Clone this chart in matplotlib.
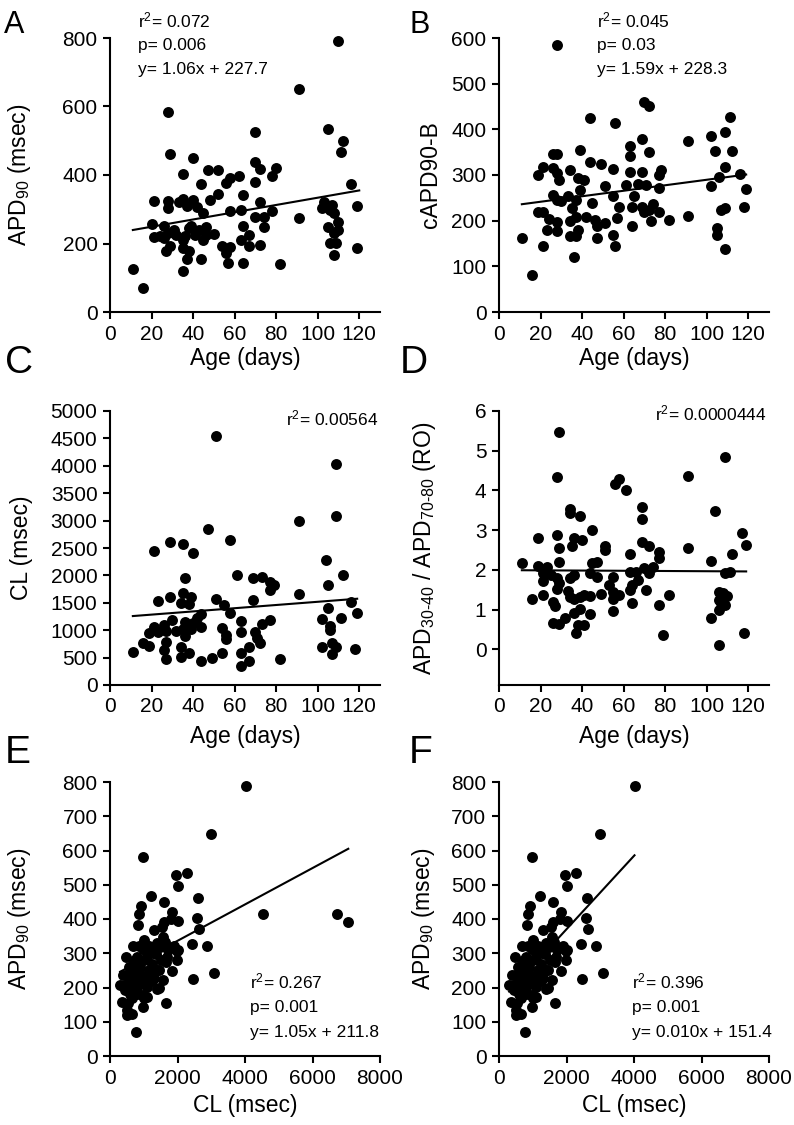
import matplotlib
matplotlib.use('Agg')
import matplotlib.pyplot as plt
import numpy as np

plt.rcParams['font.family'] = ['Liberation Sans', 'DejaVu Sans']
plt.rcParams['mathtext.fontset'] = 'custom'
plt.rcParams['mathtext.rm'] = 'Liberation Sans'

NOTE_FONT = ['Liberation Sans Narrow', 'Liberation Sans', 'DejaVu Sans']
TICK_FS = 15
LABEL_FS = 16.5

# ---- panel A: APD90 vs age ----
age_A = [110, 91, 28, 70, 105, 112, 111, 29, 40, 35, 47, 52, 70, 72, 80, 78, 70, 44, 56, 58,
         62, 52, 64, 116, 119, 21, 28, 35, 40, 48, 28, 37, 42, 45, 58, 63, 72, 78, 103, 107,
         102, 106, 91, 70, 74, 74, 64, 46, 110, 105, 110, 108, 20, 26, 21, 24, 28, 32, 38, 41,
         46, 50, 45, 35, 26, 29, 27, 35, 38, 37, 35, 44, 54, 58, 56, 57, 63, 67, 67, 72,
         64, 82, 106, 109, 108, 119, 11, 16, 31, 36, 43, 108, 39, 33]
apd_A = [790, 650, 583, 527, 533, 498, 467, 462, 451, 403, 415, 416, 437, 417, 420, 396, 381, 374, 377, 391,
         396, 345, 341, 374, 310, 323, 325, 331, 328, 327, 304, 310, 308, 289, 294, 297, 322, 296, 321, 311,
         304, 299, 273, 278, 277, 247, 252, 247, 262, 247, 238, 231, 258, 250, 218, 223, 231, 226, 245, 226,
         224, 228, 211, 211, 216, 192, 177, 187, 177, 155, 121, 156, 194, 190, 172, 143, 211, 194, 226, 197,
         143, 140, 201, 201, 167, 187, 126, 71, 240, 221, 240, 290, 252, 320]
fit_A_x = [11, 120]
fit_A_y = [239.4, 354.9]

# ---- panel B: cAPD90-B vs age ----
age_B = [28, 70, 72, 44, 56, 111, 109, 102, 91, 69, 39, 63, 63, 72, 104, 112, 28, 26, 44, 49,
         41, 55, 34, 63, 69, 109, 116, 78, 77, 19, 21, 26, 28, 29, 38, 51, 61, 67, 71, 77,
         102, 106, 119, 26, 28, 30, 33, 39, 37, 45, 35, 55, 58, 65, 64, 69, 72, 74, 77, 70,
         19, 21, 24, 28, 23, 28, 37, 34, 38, 42, 46, 51, 47, 57, 64, 73, 82, 91, 118, 109,
         107, 105, 105, 109, 34, 37, 47, 55, 56, 21, 11, 36, 16]
capd_B = [585, 459, 450, 425, 414, 426, 394, 386, 375, 379, 355, 363, 341, 350, 353, 352, 346, 345, 328, 325,
          290, 313, 310, 307, 307, 317, 303, 310, 299, 299, 317, 316, 304, 288, 293, 277, 279, 280, 279, 272,
          275, 296, 270, 257, 246, 242, 253, 268, 246, 239, 228, 253, 231, 253, 231, 231, 224, 237, 218, 220,
          220, 220, 204, 196, 180, 177, 209, 199, 180, 209, 202, 195, 189, 206, 189, 199, 202, 211, 231, 228,
          224, 184, 169, 138, 167, 167, 161, 169, 144, 144, 161, 120, 80]
fit_B_x = [11, 119]
fit_B_y = [236, 301]

# ---- panel C: CL vs age ----
age_C = [51, 109, 91, 109, 47, 29, 35, 40, 21, 58, 104, 112, 61, 36, 69, 73, 77, 79, 77, 91,
         105, 35, 39, 29, 23, 51, 55, 69, 34, 38, 116, 105, 119, 58, 44, 63, 73, 77, 102, 111,
         106, 106, 30, 36, 40, 42, 21, 26, 23, 19, 27, 32, 35, 36, 39, 44, 54, 56, 56, 63,
         70, 71, 72, 67, 63, 16, 19, 27, 26, 27, 34, 34, 38, 44, 49, 54, 63, 67, 82, 102,
         107, 109, 107, 118, 11]
cl_C = [4538, 4028, 3001, 3086, 2855, 2612, 2582, 2412, 2448, 2637, 2290, 2005, 1999, 1944, 1950, 1962, 1883, 1823, 1731, 1659,
        1829, 1671, 1610, 1604, 1537, 1561, 1458, 1549, 1488, 1470, 1507, 1397, 1318, 1318, 1294, 1172, 1112, 1185, 1203, 1215,
        1081, 1002, 1185, 1154, 1124, 1215, 1063, 1094, 972, 942, 990, 984, 1015, 893, 1015, 1051, 1033, 911, 838, 972,
        972, 851, 772, 699, 577, 759, 717, 790, 638, 474, 687, 516, 577, 437, 498, 589, 346, 437, 474, 687,
        759, 687, 565, 650, 608]
fit_C_x = [11, 119]
fit_C_y = [1258, 1574]

# ---- panel D: APD30-40 / APD70-80 vs age ----
age_D = [29, 109, 28, 91, 56, 58, 61, 34, 34, 39, 69, 69, 104, 45, 19, 28, 36, 40, 29, 35,
         51, 51, 69, 72, 77, 77, 91, 117, 119, 112, 102, 63, 11, 29, 47, 45, 19, 23, 21, 21,
         25, 28, 29, 28, 34, 36, 44, 47, 55, 63, 66, 70, 74, 72, 109, 111, 53, 55, 58, 55,
         63, 67, 64, 71, 16, 21, 33, 34, 36, 39, 41, 44, 49, 26, 27, 64, 77, 82, 106, 108,
         110, 106, 107, 109, 106, 102, 39, 36, 44, 55, 32, 26, 29, 38, 41, 37, 79, 118, 106]
ro_D = [5.47, 4.85, 4.33, 4.37, 4.17, 4.28, 4.01, 3.53, 3.42, 3.35, 3.59, 3.27, 3.49, 3.0, 2.79, 2.88, 2.81, 2.75, 2.56, 2.61,
        2.61, 2.5, 2.71, 2.61, 2.46, 2.29, 2.56, 2.93, 2.62, 2.41, 2.22, 2.4, 2.18, 2.2, 2.2, 2.16, 2.09, 2.08, 1.91, 1.72,
        1.87, 1.79, 1.68, 1.51, 1.79, 1.87, 1.91, 1.81, 1.83, 1.95, 1.95, 2.04, 2.08, 1.91, 1.91, 1.95, 1.63, 1.45, 1.37, 1.26,
        1.49, 1.74, 1.62, 1.49, 1.26, 1.37, 1.47, 1.32, 1.26, 1.31, 1.37, 1.34, 1.38, 1.18, 1.09, 1.16, 1.11, 1.37, 1.45, 1.41,
        1.35, 1.24, 1.16, 1.11, 0.99, 0.78, 1.01, 0.91, 0.89, 0.96, 0.78, 0.65, 0.63, 0.61, 0.61, 0.42, 0.36, 0.42, 0.11]
fit_D_x = [11, 119]
fit_D_y = [1.99, 1.96]

# ---- panels E/F: APD90 vs CL ----
cl_E = [4030, 2993, 988, 1956, 2291, 2022, 1215, 1610, 2617, 4543, 6736, 7062, 919, 869, 840, 1827, 2005, 2588, 2647, 1304,
        1531, 2420, 2864, 3091, 2449, 1630, 1580, 1975, 1975, 1649, 1837, 464, 691, 1017, 1156, 1383, 988, 810, 1086, 1363,
        1481, 1728, 691, 810, 1235, 1462, 395, 543, 691, 928, 1136, 1304, 1580, 296, 444, 593, 810, 1086, 1383, 958,
        1086, 346, 523, 494, 642, 494, 988, 1649, 760,
        550, 620, 700, 750, 850, 900, 1000, 1100, 1200, 1300, 600, 650, 750, 850, 1150, 1250, 1400, 1500, 1550, 1700,
        500, 600, 700, 800, 900, 1000, 1250, 1450, 1600, 1800, 2000, 1900]
apd_E = [789, 648, 581, 528, 533, 497, 467, 450, 462, 416, 414, 390, 437, 416, 382, 419, 394, 403, 370, 369,
         377, 327, 322, 243, 225, 333, 348, 307, 280, 275, 249, 290, 321, 338, 322, 331, 313, 290, 290, 299,
         319, 309, 270, 256, 251, 251, 236, 236, 226, 236, 226, 229, 222, 207, 192, 204, 202, 202, 197, 178,
         173, 158, 154, 134, 124, 120, 142, 154, 70,
         260, 240, 250, 215, 230, 260, 280, 300, 310, 300, 180, 170, 280, 320, 250, 220, 250, 280, 330, 290,
         210, 220, 195, 180, 210, 170, 270, 200, 390, 400, 310, 320]
fit_E_x = [300, 7060]
fit_E_y = [246, 605]
fit_F_x = [300, 4015]
fit_F_y = [188, 586]

cl_E = np.array(cl_E)
apd_E = np.array(apd_E)
keep = cl_E < 4500
cl_F = cl_E[keep]
apd_F = apd_E[keep]

fig = plt.figure(figsize=(7.94, 11.25), dpi=100)
W, H = 794.0, 1125.0


def make_ax(left_px, bottom_px):
    return fig.add_axes([left_px / W, 1 - bottom_px / H, 270 / W, 274 / H])


def style(ax):
    for s in ['top', 'right']:
        ax.spines[s].set_visible(False)
    for s in ['left', 'bottom']:
        ax.spines[s].set_linewidth(1.5)
    ax.tick_params(direction='out', length=5, width=1.5, labelsize=TICK_FS, pad=4)


def scatter(ax, x, y, fx, fy):
    ax.scatter(x, y, s=62, color='black', linewidths=0, clip_on=False, zorder=3)
    ax.plot(fx, fy, color='black', lw=1.5, zorder=4)


def notes(ax, x, ys, lines, ha='left'):
    for y, t in zip(ys, lines):
        ax.text(x, y, t, transform=ax.transAxes, ha=ha, va='baseline',
                fontsize=12.5, family=NOTE_FONT, clip_on=False)


axA = make_ax(110, 312)
axB = make_ax(499, 312)
axC = make_ax(110, 685)
axD = make_ax(499, 685)
axE = make_ax(110, 1056)
axF = make_ax(499, 1056)

# A
scatter(axA, age_A, apd_A, fit_A_x, fit_A_y)
axA.set_xlim(0, 130)
axA.set_ylim(0, 800)
axA.set_xticks(range(0, 121, 20))
axA.set_yticks(range(0, 801, 200))
axA.set_xlabel('Age (days)', fontsize=LABEL_FS)
axA.set_ylabel(r'$\mathregular{APD_{90}}$ (msec)', fontsize=LABEL_FS)
axA.xaxis.set_label_coords(0.5, -0.128)
axA.yaxis.set_label_coords(-0.285, 0.5)
notes(axA, 0.104, [1.040, 0.956, 0.869],
      [r'$\mathregular{r^{2}}$= 0.072', 'p= 0.006', 'y= 1.06x + 227.7'])

# B
scatter(axB, age_B, capd_B, fit_B_x, fit_B_y)
axB.set_xlim(0, 130)
axB.set_ylim(0, 600)
axB.set_xticks(range(0, 121, 20))
axB.set_yticks(range(0, 601, 100))
axB.set_xlabel('Age (days)', fontsize=LABEL_FS)
axB.set_ylabel('cAPD90-B', fontsize=LABEL_FS)
axB.xaxis.set_label_coords(0.5, -0.128)
axB.yaxis.set_label_coords(-0.21, 0.5)
notes(axB, 0.362, [1.040, 0.956, 0.869],
      [r'$\mathregular{r^{2}}$= 0.045', 'p= 0.03', 'y= 1.59x + 228.3'])

# C
scatter(axC, age_C, cl_C, fit_C_x, fit_C_y)
axC.set_xlim(0, 130)
axC.set_ylim(0, 5000)
axC.set_xticks(range(0, 121, 20))
axC.set_yticks(range(0, 5001, 500))
axC.set_xlabel('Age (days)', fontsize=LABEL_FS)
axC.set_ylabel('CL (msec)', fontsize=LABEL_FS)
axC.xaxis.set_label_coords(0.5, -0.146)
axC.yaxis.set_label_coords(-0.285, 0.5)
notes(axC, 0.993, [0.949], [r'$\mathregular{r^{2}}$= 0.00564'], ha='right')

# D
scatter(axD, age_D, ro_D, fit_D_x, fit_D_y)
axD.set_xlim(0, 130)
axD.set_ylim(-0.9, 6)
axD.set_xticks(range(0, 121, 20))
axD.set_yticks(range(0, 7))
axD.set_xlabel('Age (days)', fontsize=LABEL_FS)
axD.set_ylabel(r'$\mathregular{APD_{30\text{-}40}}$ / $\mathregular{APD_{70\text{-}80}}$ (RO)', fontsize=LABEL_FS)
axD.xaxis.set_label_coords(0.5, -0.146)
axD.yaxis.set_label_coords(-0.225, 0.5)
notes(axD, 0.993, [0.967], [r'$\mathregular{r^{2}}$= 0.0000444'], ha='right')

# E
scatter(axE, cl_E, apd_E, fit_E_x, fit_E_y)
axE.set_xlim(0, 8000)
axE.set_ylim(0, 800)
axE.set_xticks(range(0, 8001, 2000))
axE.set_yticks(range(0, 801, 100))
axE.set_xlabel('CL (msec)', fontsize=LABEL_FS)
axE.set_ylabel(r'$\mathregular{APD_{90}}$ (msec)', fontsize=LABEL_FS)
axE.xaxis.set_label_coords(0.5, -0.139)
axE.yaxis.set_label_coords(-0.285, 0.5)
notes(axE, 0.519, [0.248, 0.161, 0.069],
      [r'$\mathregular{r^{2}}$= 0.267', 'p= 0.001', 'y= 1.05x + 211.8'])

# F
scatter(axF, cl_F, apd_F, fit_F_x, fit_F_y)
axF.set_xlim(0, 8000)
axF.set_ylim(0, 800)
axF.set_xticks(range(0, 8001, 2000))
axF.set_yticks(range(0, 801, 100))
axF.set_xlabel('CL (msec)', fontsize=LABEL_FS)
axF.set_ylabel(r'$\mathregular{APD_{90}}$ (msec)', fontsize=LABEL_FS)
axF.xaxis.set_label_coords(0.5, -0.139)
axF.yaxis.set_label_coords(-0.229, 0.5)
notes(axF, 0.491, [0.248, 0.161, 0.069],
      [r'$\mathregular{r^{2}}$= 0.396', 'p= 0.001', 'y= 0.010x + 151.4'])

for ax in [axA, axB, axC, axD, axE, axF]:
    style(ax)

# panel letters
fig.text(4 / W, 1 - 33 / H, 'A', fontsize=22, va='baseline', ha='left')
fig.text(410 / W, 1 - 33 / H, 'B', fontsize=22, va='baseline', ha='left')
fig.text(5 / W, 1 - 373 / H, 'C', fontsize=28, va='baseline', ha='left')
fig.text(400 / W, 1 - 373 / H, 'D', fontsize=28, va='baseline', ha='left')
fig.text(5 / W, 1 - 763 / H, 'E', fontsize=28, va='baseline', ha='left')
fig.text(409 / W, 1 - 763 / H, 'F', fontsize=28, va='baseline', ha='left')

fig.savefig('out.png', dpi=100)
